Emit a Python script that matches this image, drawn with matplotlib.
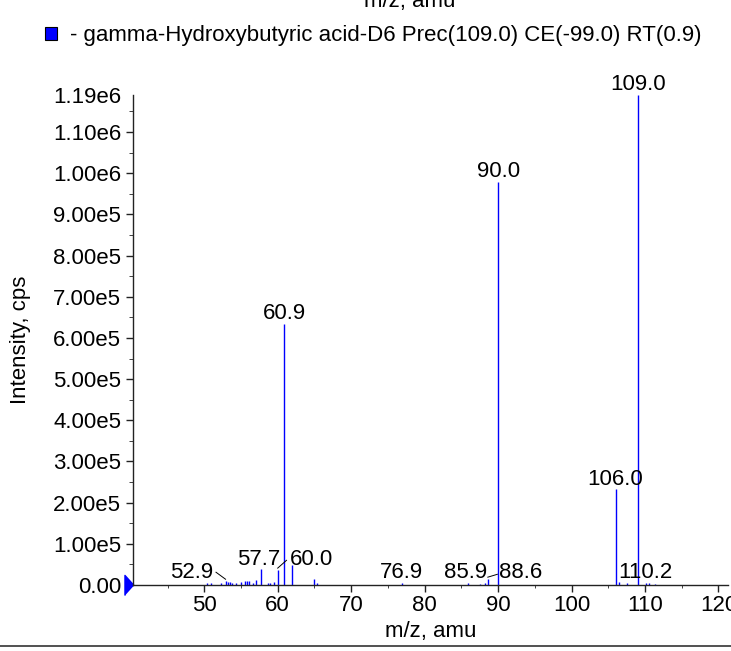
import numpy as np
import matplotlib
matplotlib.use("Agg")
from matplotlib import pyplot as plt
from matplotlib import transforms
from matplotlib.lines import Line2D
from matplotlib.ticker import FuncFormatter, MultipleLocator

plt.rcParams['font.family'] = ['Liberation Sans', 'DejaVu Sans']

# peak list (m/z, intensity in cps)
mz = [50.4, 50.9, 52.3, 52.9, 53.3, 53.5, 53.8, 54.3, 55.0, 55.5, 55.8, 56.1,
      56.7, 57.0, 57.7, 58.7, 59.0, 59.5, 60.0, 60.9, 62.0, 64.9, 65.3,
      76.9, 85.9, 87.5, 88.2, 88.6, 90.0, 106.0, 106.4, 107.5, 109.0,
      110.2, 110.6, 111.3]
intensity = [5.5e3, 5.5e3, 4.0e3, 9.0e3, 7.0e3, 6.5e3, 5.0e3, 4.0e3, 7.0e3, 1.0e4, 1.0e4, 1.0e4,
             6.0e3, 1.2e4, 3.9e4, 5.0e3, 5.5e3, 7.0e3, 3.6e4, 6.33e5, 4.8e4, 1.4e4, 4.0e3,
             5.5e3, 5.5e3, 3.5e3, 5.0e3, 1.4e4, 9.79e5, 2.33e5, 8.0e3, 4.0e3, 1.19e6,
             5.0e3, 4.0e3, 3.5e3]

# labelled peaks: (text, peak m/z, peak height, label x in m/z, label baseline in cps)
labels = [
    ("109.0", 109.0, 1.19e6, 109.0, 1.19e6 + 1.3e4),
    ("90.0", 90.0, 9.79e5, 90.0, 9.79e5 + 1.3e4),
    ("60.9", 60.9, 6.33e5, 60.9, 6.33e5 + 1.3e4),
    ("106.0", 106.0, 2.33e5, 106.0, 2.33e5 + 1.0e4),
    ("57.7", 57.7, 3.9e4, 57.4, 4.8e4),
    ("60.0", 60.0, 3.6e4, 64.6, 4.8e4),
    ("52.9", 52.9, 9.0e3, 48.3, 1.8e4),
    ("76.9", 76.9, 5.5e3, 76.9, 1.8e4),
    ("85.9", 85.9, 5.5e3, 85.6, 1.8e4),
    ("88.6", 88.6, 1.4e4, 93.1, 1.8e4),
    ("110.2", 110.2, 5.0e3, 110.1, 1.8e4),
]
# labels shifted away from their peak get a short leader line
leaders = {"60.0": (61.2, 6.0e4), "52.9": (51.6, 3.1e4), "88.6": (89.9, 2.6e4)}

legend_text = "- gamma-Hydroxybutyric acid-D6 Prec(109.0) CE(-99.0) RT(0.9)"
y_top = 1.19e6

W, H = 731, 651
fig = plt.figure(figsize=(W / 100, H / 100), dpi=100)
ax = fig.add_axes([133 / W, (H - 585) / H, (728 - 133) / W, (585 - 95) / H])

ax.vlines(mz, 0, intensity, colors="#0000ff", linewidth=1.0)

fs = 16
for txt, x0, h, lx, ly in labels:
    ax.text(lx, ly, txt, ha="center", va="baseline", fontsize=fs, color="black")
    if txt in leaders:
        ex, ey = leaders[txt]
        ax.plot([x0, ex], [h + 5e3, ey], color="black", linewidth=0.7)

ax.set_xlim(40.3, 121.3)
ax.set_ylim(0, y_top)

ax.xaxis.set_major_locator(MultipleLocator(10))
ax.xaxis.set_minor_locator(MultipleLocator(5))
yt = list(np.arange(0, 1.15e6, 1e5)) + [y_top]
ax.set_yticks(yt)
ax.yaxis.set_minor_locator(MultipleLocator(5e4))


def sci(v, pos=None):
    if v == 0:
        return "0.00"
    e = int(np.floor(np.log10(abs(v))))
    return f"{v / 10 ** e:.2f}e{e}"


ax.yaxis.set_major_formatter(FuncFormatter(sci))
ax.yaxis.get_major_ticks()[-1].tick1line.set_visible(False)

for s in ["top", "right"]:
    ax.spines[s].set_visible(False)
for s in ["left", "bottom"]:
    ax.spines[s].set_color("#222222")
    ax.spines[s].set_linewidth(1.0)

ax.tick_params(axis="both", which="major", labelsize=fs, color="#222222", width=1.0)
ax.tick_params(axis="x", which="major", length=5, pad=2.5)
ax.tick_params(axis="x", which="minor", length=2.5, color="#222222")
ax.tick_params(axis="y", which="major", length=5, pad=3.5)
ax.tick_params(axis="y", which="minor", length=3, color="#222222")

ax.set_xlabel("m/z, amu", fontsize=fs, labelpad=3)
ax.set_ylabel("Intensity, cps", fontsize=fs, labelpad=16)

# blue triangle at the origin of the intensity axis
tri = [(-0.45, -1), (-0.45, 1), (0.45, 0)]
trans = transforms.blended_transform_factory(ax.transAxes, ax.transData)
ax.plot([-4.5 / 595], [0], marker=tri, markersize=14.5, color="#0000ff",
        transform=trans, clip_on=False)

# legend row and cut off label from the panel above
fig.patches.append(plt.Rectangle((45 / W, 1 - 40 / H), 12 / W, 13 / H,
                                 transform=fig.transFigure, facecolor="#0000ff",
                                 edgecolor="black", linewidth=0.8))
fig.text(70 / W, 1 - 35 / H, legend_text, fontsize=fs, va="center", ha="left")
fig.text(410 / W, 1 - 7 / H, "m/z, amu", fontsize=fs, va="baseline", ha="center")

fig.add_artist(Line2D([0, 1], [1 - 646 / H] * 2, color="#333333", linewidth=1.2,
                      transform=fig.transFigure))

fig.savefig("out.png", dpi=100)
